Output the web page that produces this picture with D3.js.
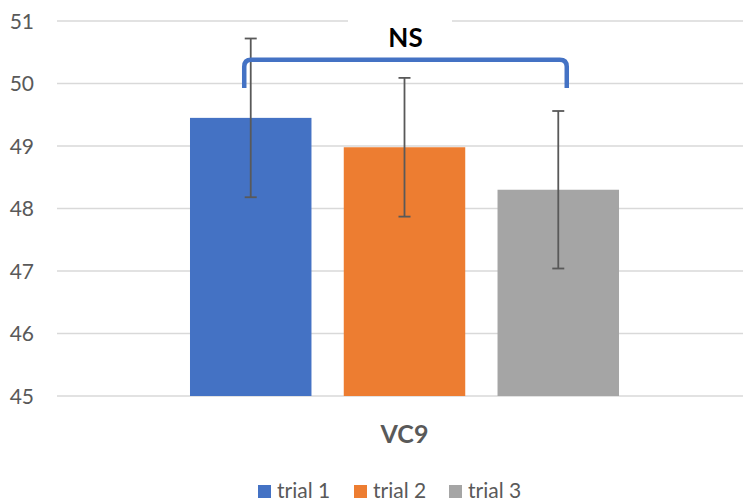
<!DOCTYPE html>
<html><head><meta charset="utf-8">
<script src="https://cdn.jsdelivr.net/npm/d3@7"></script>
<style>body{margin:0;background:#fff}svg{display:block}</style>
</head><body>
<script>
const categories = ["VC9"];
const seriesNames = ["trial 1", "trial 2", "trial 3"];
const seriesValues = [49.45, 48.98, 48.30];
const errorValues = [1.27, 1.11, 1.26];
const seriesColors = ["#4472C4", "#ED7D31", "#A5A5A5"];
const yTicks = [45, 46, 47, 48, 49, 50, 51];
const annotationText = "NS";
const bracketLevels = {top: 50.38, bottom: 49.93};

const W = 743, H = 501;
const svg = d3.select("body").append("svg").attr("width", W).attr("height", H);
const font = "Lato, 'Open Sans', sans-serif";

const y = d3.scaleLinear().domain([45, 51]).range([396, 21]);
const x0 = d3.scaleBand().domain(categories).range([57, 752]).paddingInner(0).paddingOuter(0.31);
const x1 = d3.scaleBand().domain(seriesNames).range([0, x0.bandwidth()]).paddingInner(0.21).paddingOuter(0);

// gridlines
svg.append("g").selectAll("line").data(yTicks).join("line")
  .attr("x1", 57).attr("x2", W)
  .attr("y1", d => y(d)).attr("y2", d => y(d))
  .attr("stroke", "#d9d9d9").attr("stroke-width", 1.5);

// y labels
svg.append("g").selectAll("text").data(yTicks).join("text")
  .attr("x", 34).attr("y", d => y(d)).attr("dy", "0.36em")
  .attr("text-anchor", "end").attr("font-family", font).attr("font-size", 21)
  .attr("fill", "#595959").text(d => d);

const data = seriesNames.map((s, i) => ({name: s, value: seriesValues[i], err: errorValues[i], color: seriesColors[i]}));
const g = svg.append("g").attr("transform", `translate(${x0(categories[0])},0)`);

g.selectAll("rect").data(data).join("rect")
  .attr("x", d => x1(d.name)).attr("width", x1.bandwidth())
  .attr("y", d => y(d.value)).attr("height", d => y(45) - y(d.value))
  .attr("fill", d => d.color);

// error bars
const eb = g.append("g").attr("stroke", "#595959").attr("stroke-width", 1.8);
data.forEach(d => {
  const cx = x1(d.name) + x1.bandwidth() / 2;
  eb.append("line").attr("x1", cx).attr("x2", cx).attr("y1", y(d.value + d.err)).attr("y2", y(d.value - d.err));
  eb.append("line").attr("x1", cx - 6).attr("x2", cx + 6).attr("y1", y(d.value + d.err)).attr("y2", y(d.value + d.err));
  eb.append("line").attr("x1", cx - 6).attr("x2", cx + 6).attr("y1", y(d.value - d.err)).attr("y2", y(d.value - d.err));
});

// NS label background + bracket
const bx0 = x0(categories[0]) + x1(seriesNames[0]) + x1.bandwidth() / 2 - 6.5;
const bx1 = x0(categories[0]) + x1(seriesNames[2]) + x1.bandwidth() / 2 + 8.5;
svg.append("rect").attr("x", 348).attr("y", 10).attr("width", 104).attr("height", 38).attr("fill", "#fff");
const yt = y(bracketLevels.top), yb = y(bracketLevels.bottom), r = 7;
svg.append("path")
  .attr("d", `M${bx0},${yb} L${bx0},${yt + r} Q${bx0},${yt} ${bx0 + r},${yt} L${bx1 - r},${yt} Q${bx1},${yt} ${bx1},${yt + r} L${bx1},${yb}`)
  .attr("fill", "none").attr("stroke", "#4472C4").attr("stroke-width", 4.5);
svg.append("text").attr("x", (bx0 + bx1) / 2).attr("y", 46.5).attr("text-anchor", "middle")
  .attr("font-family", font).attr("font-weight", "bold").attr("font-size", 26).attr("fill", "#000")
  .text(annotationText);

// category label
svg.append("text").attr("x", x0(categories[0]) + x0.bandwidth() / 2).attr("y", 443)
  .attr("text-anchor", "middle").attr("font-family", font).attr("font-weight", "bold")
  .attr("font-size", 25).attr("fill", "#595959").text(categories[0]);

// legend
const legendX = [258, 354, 449];
const lg = svg.append("g");
data.forEach((d, i) => {
  lg.append("rect").attr("x", legendX[i]).attr("y", 485).attr("width", 13).attr("height", 13).attr("fill", d.color);
  lg.append("text").attr("x", legendX[i] + 19).attr("y", 498).attr("font-family", font)
    .attr("font-size", 21).attr("fill", "#595959").text(d.name);
});
</script>
</body></html>
